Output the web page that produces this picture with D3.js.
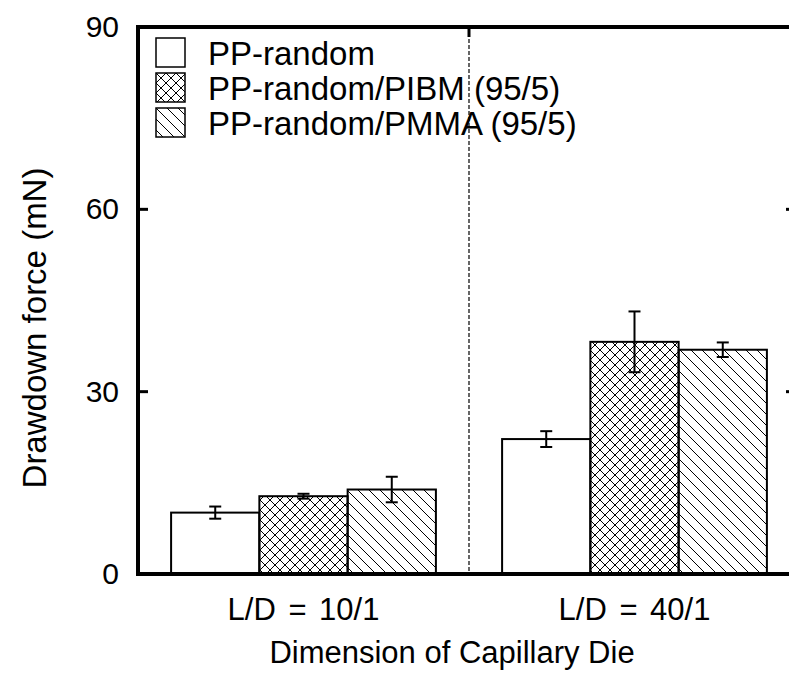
<!DOCTYPE html>
<html>
<head>
<meta charset="utf-8">
<script src="https://cdn.jsdelivr.net/npm/d3@7/dist/d3.min.js"></script>
<style>
  body { margin: 0; background: #fff; }
  svg text { font-family: "Liberation Sans", Arial, sans-serif; fill: #000; }
</style>
</head>
<body>
<div id="chart"></div>
<script>
// data
var categories = ["L/D = 10/1", "L/D = 40/1"];
var seriesNames = ["PP-random", "PP-random/PIBM (95/5)", "PP-random/PMMA (95/5)"];
var ppRandom = [10.1, 22.2];
var ppPibm = [12.8, 38.2];
var ppPmma = [13.9, 36.9];
var ppRandomErr = [1.0, 1.3];
var ppPibmErr = [0.4, 5.0];
var ppPmmaErr = [2.1, 1.2];
var yTicks = [0, 30, 60, 90];

var W = 789, H = 673;
var mLeft = 138, mTop = 27, mBottom = 574, mRight = 789;

var svg = d3.select("#chart").append("svg")
  .attr("width", W)
  .attr("height", H);

var defs = svg.append("defs");

// cross hatch
var cross = defs.append("pattern")
  .attr("id", "cross")
  .attr("patternUnits", "userSpaceOnUse")
  .attr("width", 10).attr("height", 10);
cross.append("path")
  .attr("d", "M0,0 L10,10 M-5,5 L5,15 M5,-5 L15,5 M10,0 L0,10 M-5,5 L5,-5 M5,15 L15,5")
  .attr("stroke", "#000").attr("stroke-width", 1).attr("fill", "none");

// diagonal hatch "\"
var diag = defs.append("pattern")
  .attr("id", "diag")
  .attr("patternUnits", "userSpaceOnUse")
  .attr("width", 11).attr("height", 11);
diag.append("path")
  .attr("d", "M0,0 L11,11 M-5.5,5.5 L5.5,16.5 M5.5,-5.5 L16.5,5.5")
  .attr("stroke", "#000").attr("stroke-width", 1).attr("fill", "none");

var fills = ["#fff", "url(#cross)", "url(#diag)"];

var y = d3.scaleLinear().domain([0, 90]).range([mBottom, mTop]);
var x0 = d3.scaleBand().domain(categories).range([mLeft, 800]).paddingInner(0.2).paddingOuter(0.1);
var x1 = d3.scaleBand().domain(d3.range(3)).range([0, x0.bandwidth()]);

var values = [ppRandom, ppPibm, ppPmma];
var errs = [ppRandomErr, ppPibmErr, ppPmmaErr];

var rows = [];
categories.forEach(function (c, ci) {
  values.forEach(function (v, si) {
    rows.push({ cat: c, s: si, v: v[ci], e: errs[si][ci] });
  });
});

// bars
svg.selectAll("rect.bar")
  .data(rows)
  .enter().append("rect")
  .attr("class", "bar")
  .attr("x", function (d) { return x0(d.cat) + x1(d.s); })
  .attr("y", function (d) { return y(d.v); })
  .attr("width", x1.bandwidth())
  .attr("height", function (d) { return y(0) - y(d.v); })
  .attr("fill", function (d) { return fills[d.s]; })
  .attr("stroke", "#000")
  .attr("stroke-width", 2);

// error bars
var eb = svg.selectAll("g.err")
  .data(rows)
  .enter().append("g")
  .attr("class", "err")
  .attr("transform", function (d) { return "translate(" + (x0(d.cat) + x1(d.s) + x1.bandwidth() / 2) + ",0)"; });
eb.append("line")
  .attr("y1", function (d) { return y(d.v + d.e); })
  .attr("y2", function (d) { return y(d.v - d.e); })
  .attr("stroke", "#000").attr("stroke-width", 2);
eb.append("line")
  .attr("x1", -6).attr("x2", 6)
  .attr("y1", function (d) { return y(d.v + d.e); })
  .attr("y2", function (d) { return y(d.v + d.e); })
  .attr("stroke", "#000").attr("stroke-width", 2);
eb.append("line")
  .attr("x1", -6).attr("x2", 6)
  .attr("y1", function (d) { return y(d.v - d.e); })
  .attr("y2", function (d) { return y(d.v - d.e); })
  .attr("stroke", "#000").attr("stroke-width", 2);

// dashed divider between groups
var mid = (x0(categories[0]) + x0.bandwidth() + x0(categories[1])) / 2;
svg.append("line")
  .attr("x1", mid).attr("x2", mid)
  .attr("y1", mTop).attr("y2", mBottom)
  .attr("stroke", "#000").attr("stroke-width", 1.2)
  .attr("stroke-dasharray", "4,2");
svg.append("line")
  .attr("x1", mid).attr("x2", mid)
  .attr("y1", mTop).attr("y2", mTop + 10)
  .attr("stroke", "#000").attr("stroke-width", 3);

// left axis
var yAxis = d3.axisLeft(y).tickValues(yTicks).tickSize(0).tickPadding(19);
var ga = svg.append("g").attr("transform", "translate(" + mLeft + ",0)").call(yAxis);
ga.select(".domain").remove();
ga.selectAll("text").attr("font-size", 30).attr("font-family", "Liberation Sans, Arial, sans-serif");
// inner ticks
svg.selectAll("line.ytick")
  .data(yTicks.filter(function (t) { return t > 0 && t < 90; }))
  .enter().append("line")
  .attr("class", "ytick")
  .attr("x1", mLeft).attr("x2", mLeft + 10)
  .attr("y1", function (d) { return y(d); })
  .attr("y2", function (d) { return y(d); })
  .attr("stroke", "#000").attr("stroke-width", 3);
svg.selectAll("line.rtick")
  .data(yTicks.filter(function (t) { return t > 0 && t < 90; }))
  .enter().append("line")
  .attr("class", "rtick")
  .attr("x1", 786).attr("x2", 789)
  .attr("y1", function (d) { return y(d); })
  .attr("y2", function (d) { return y(d); })
  .attr("stroke", "#000").attr("stroke-width", 3);

// frame
svg.append("path")
  .attr("d", "M" + mRight + "," + mTop + " H" + mLeft + " V" + mBottom + " H" + mRight)
  .attr("fill", "none").attr("stroke", "#000").attr("stroke-width", 4);

// category labels
var xAxis = d3.axisBottom(x0).tickSize(0).tickPadding(24);
var gx = svg.append("g").attr("transform", "translate(0," + mBottom + ")").call(xAxis);
gx.select(".domain").remove();
gx.selectAll("text").attr("font-size", 31).attr("word-spacing", 4).attr("font-family", "Liberation Sans, Arial, sans-serif");

// axis titles
svg.append("text")
  .attr("x", 452).attr("y", 663)
  .attr("text-anchor", "middle")
  .attr("font-size", 31)
  .text("Dimension of Capillary Die");
svg.append("text")
  .attr("transform", "translate(46,328) rotate(-90)")
  .attr("text-anchor", "middle")
  .attr("font-size", 33)
  .text("Drawdown force (mN)");

// legend
var lg = svg.selectAll("g.leg")
  .data(seriesNames)
  .enter().append("g")
  .attr("class", "leg")
  .attr("transform", function (d, i) { return "translate(156," + (38 + i * 35) + ")"; });
lg.append("rect")
  .attr("width", 29).attr("height", 29)
  .attr("fill", function (d, i) { return fills[i]; })
  .attr("stroke", "#000").attr("stroke-width", 1.5);
lg.append("text")
  .attr("x", 52).attr("y", 15)
  .attr("dy", "0.35em")
  .attr("font-size", 33)
  .text(function (d) { return d; });
</script>
</body>
</html>
